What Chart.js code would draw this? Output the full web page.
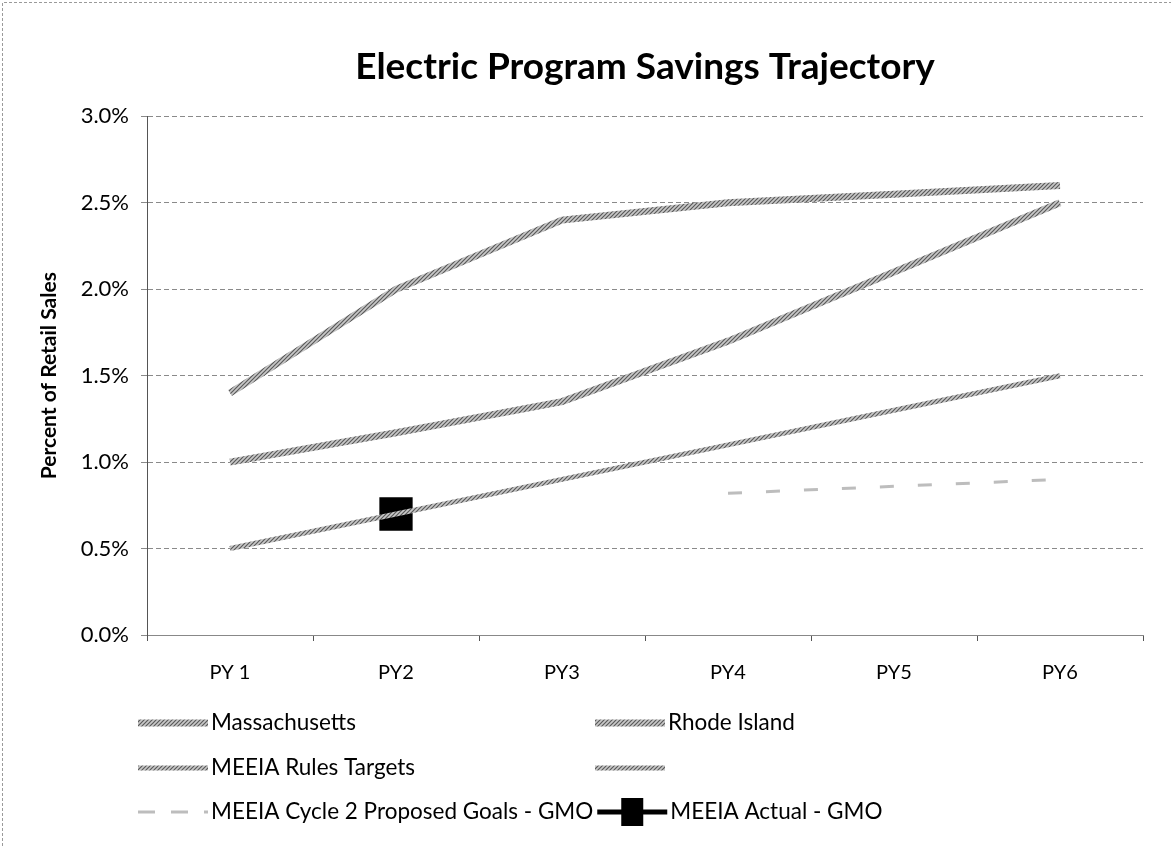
<!DOCTYPE html>
<html>
<head>
<meta charset="utf-8">
<script src="https://cdn.jsdelivr.net/npm/chart.js@4/dist/chart.umd.min.js"></script>
<style>
  html, body { margin: 0; padding: 0; background: #fff; }
  #wrap { width: 1171px; height: 846px; position: relative; }
</style>
</head>
<body>
<div id="wrap"><canvas id="c" width="1171" height="846"></canvas></div>
<script>
// values (percent of retail sales)
const years = ['PY 1', 'PY2', 'PY3', 'PY4', 'PY5', 'PY6'];
const massachusetts = [1.4, 2.0, 2.4, 2.5, 2.55, 2.6];
const rhodeIsland = [1.0, 1.17, 1.35, 1.7, 2.1, 2.5];
const meeiaRules = [0.5, 0.7, 0.9, 1.1, 1.3, 1.5];
const unnamedSeries = [null, null, null, null, null, null];
const cycle2Gmo = [null, null, null, 0.82, 0.86, 0.9];
const actualGmo = [null, 0.7, null, null, null, null];
const yTicks = [0, 0.5, 1.0, 1.5, 2.0, 2.5, 3.0];

const FONT = 'Lato, "Open Sans", sans-serif';

// scanned lines look hatched, so use a small stripe pattern
function hatch(fg, bg) {
    const c = document.createElement('canvas');
    c.width = 4; c.height = 4;
    const g = c.getContext('2d');
    g.fillStyle = bg;
    g.fillRect(0, 0, 4, 4);
    g.strokeStyle = fg;
    g.lineWidth = 1.2;
    g.beginPath();
    g.moveTo(0, 4); g.lineTo(4, 0);
    g.moveTo(-1, 1); g.lineTo(1, -1);
    g.moveTo(3, 5); g.lineTo(5, 3);
    g.stroke();
    return g.createPattern(c, 'repeat');
}
const grayHatch = hatch('#5a5a5a', '#c8c8c8');

const datasets = [
    { label: 'Massachusetts', data: massachusetts, borderColor: grayHatch, borderWidth: 7 },
    { label: 'Rhode Island', data: rhodeIsland, borderColor: grayHatch, borderWidth: 7 },
    { label: 'MEEIA Rules Targets', data: meeiaRules, borderColor: grayHatch, borderWidth: 5 },
    { label: '', data: unnamedSeries, borderColor: grayHatch, borderWidth: 5 },
    { label: 'MEEIA Cycle 2 Proposed Goals - GMO', data: cycle2Gmo, borderColor: '#bdbdbd', borderWidth: 3, borderDash: [14, 24] },
    { label: 'MEEIA Actual - GMO', data: actualGmo, borderColor: '#000', backgroundColor: '#000', borderWidth: 5,
      pointStyle: 'rect', pointRadius: 20, pointHoverRadius: 20 }
].map(d => Object.assign({ pointRadius: 0, pointHoverRadius: 0, fill: false, tension: 0, spanGaps: false }, d));

// legend drawn like the Excel one: two columns, three rows
const excelLegend = {
    id: 'excelLegend',
    afterDraw(chart) {
        const ctx = chart.ctx;
        const cols = [138, 595];
        const rows = [723, 768, 812];
        const sampleW = 70;
        ctx.save();
        ctx.font = '22.5px ' + FONT;
        ctx.textBaseline = 'middle';
        let prevEnd = 0;
        chart.data.datasets.forEach((ds, i) => {
            const row = Math.floor(i / 2), col = i % 2;
            let x = cols[col];
            if (col === 1) x = Math.max(x, prevEnd + 4);
            const y = rows[row];
            ctx.save();
            ctx.strokeStyle = ds.borderColor;
            ctx.lineWidth = ds.borderWidth;
            ctx.setLineDash(ds.borderDash ? [17, 16] : []);
            ctx.beginPath();
            ctx.moveTo(x, y);
            ctx.lineTo(x + sampleW, y);
            ctx.stroke();
            if (ds.pointStyle) {
                ctx.fillStyle = '#000';
                ctx.fillRect(x + sampleW / 2 - 11, y - 14, 22, 28);
            }
            ctx.restore();
            ctx.fillStyle = '#000';
            ctx.fillText(ds.label, x + sampleW + 3, y);
            prevEnd = x + sampleW + 3 + ctx.measureText(ds.label).width;
        });
        ctx.restore();
    }
};

// faint scanned frame at the top and left of the chart
const frame = {
    id: 'frame',
    beforeDraw(chart) {
        const ctx = chart.ctx;
        ctx.save();
        ctx.strokeStyle = '#9a9a9a';
        ctx.lineWidth = 1;
        ctx.setLineDash([3, 2]);
        ctx.beginPath();
        ctx.moveTo(2.5, chart.height);
        ctx.lineTo(2.5, 2.5);
        ctx.lineTo(chart.width, 2.5);
        ctx.stroke();
        ctx.restore();
    }
};

new Chart(document.getElementById('c'), {
    type: 'line',
    data: { labels: years, datasets },
    plugins: [excelLegend, frame],
    options: {
        responsive: false,
        animation: false,
        events: [],
        layout: { padding: { left: 0, right: 28, top: 0, bottom: 150 } },
        plugins: {
            legend: { display: false },
            tooltip: { enabled: false },
            title: {
                display: true,
                fullSize: false,
                text: 'Electric Program Savings Trajectory',
                color: '#000',
                font: { family: FONT, size: 37, weight: 'bold' },
                padding: { top: 45, bottom: 27 }
            }
        },
        scales: {
            x: {
                offset: true,
                grid: { offset: true, drawOnChartArea: false, drawTicks: true, tickLength: 6, color: '#555' },
                border: { display: true, color: '#888' },
                ticks: { color: '#000', font: { family: FONT, size: 20 }, padding: 20 },
                afterFit(scale) { scale.height = 61; }
            },
            y: {
                min: 0,
                max: 3,
                afterBuildTicks(scale) { scale.ticks = yTicks.map(v => ({ value: v })); },
                grid: { color: '#8a8a8a', lineWidth: 1, tickLength: 6 },
                border: { display: true, color: '#555', dash: [5, 3] },
                ticks: {
                    color: '#000',
                    font: { family: FONT, size: 22 },
                    padding: 12,
                    callback: v => v.toFixed(1) + '%'
                },
                title: {
                    display: true,
                    text: 'Percent of Retail Sales',
                    color: '#000',
                    font: { family: FONT, size: 21, weight: 'bold' },
                    padding: { top: 37, bottom: 0 }
                },
                afterFit(scale) { scale.width = 147; }
            }
        }
    }
});
</script>
</body>
</html>
